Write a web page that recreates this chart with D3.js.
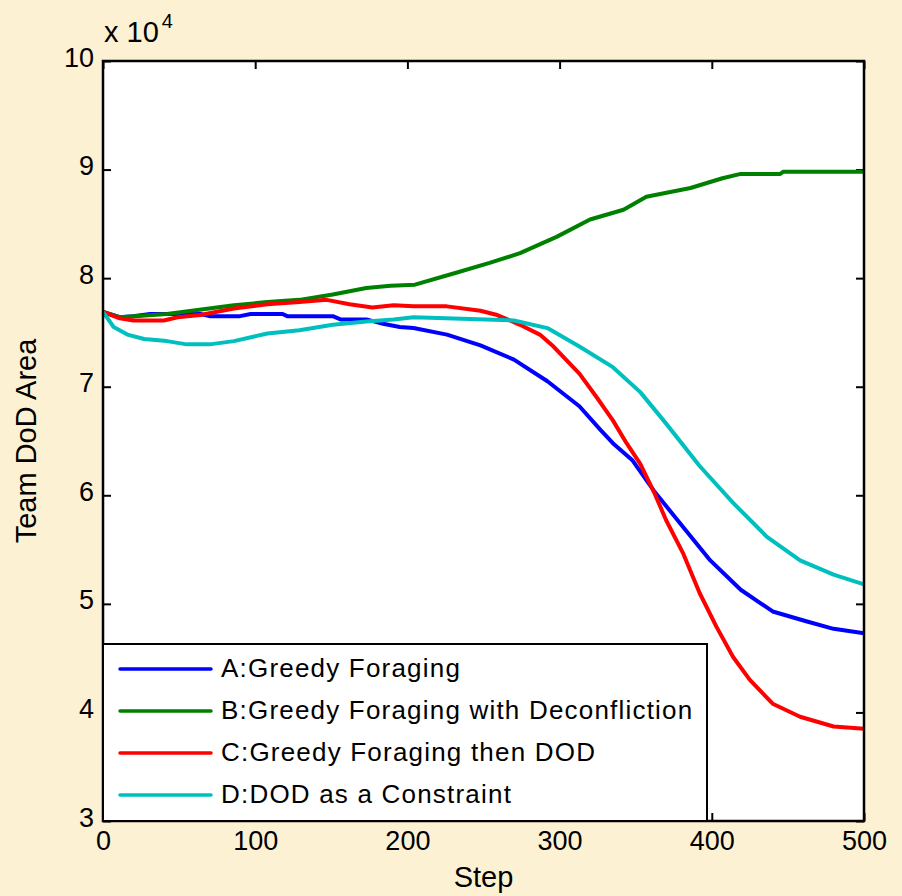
<html>
<head>
<meta charset="UTF-8">
<title>Team DoD Area</title>
<script src="https://d3js.org/d3.v7.min.js"></script>
<style>
  body { margin: 0; background: #fdf1d3; }
  text { font-family: "Liberation Sans", Arial, sans-serif; fill: #000; }
</style>
</head>
<body>
<div id="chart"></div>
<script>
// values in units of 10^4
var xTicks = [0, 100, 200, 300, 400, 500];
var yTicks = [3, 4, 5, 6, 7, 8, 9, 10];

var seriesNames = ["A:Greedy Foraging", "B:Greedy Foraging with Deconfliction",
                   "C:Greedy Foraging then DOD", "D:DOD as a Constraint"];
var seriesColors = ["#0000ff", "#008000", "#ff0000", "#00bfbf"];

var greedyA = [[0,7.69],[11,7.64],[20,7.65],[31,7.67],[64,7.67],[70,7.65],[90,7.65],[97,7.67],
  [118,7.67],[121,7.65],[151,7.65],[156,7.62],[173,7.62],[184,7.58],[195,7.55],[204,7.54],
  [226,7.48],[248,7.38],[270,7.25],[292,7.05],[313,6.82],[327,6.60],[335,6.48],[348,6.32],
  [362,6.04],[381,5.71],[399,5.40],[419,5.13],[440,4.93],[462,4.84],[480,4.77],[500,4.73]];

var deconflictB = [[0,7.69],[11,7.64],[42,7.67],[86,7.75],[108,7.78],[129,7.80],[151,7.85],
  [173,7.91],[189,7.93],[205,7.94],[232,8.05],[254,8.14],[274,8.23],[298,8.38],[320,8.54],
  [342,8.63],[357,8.75],[386,8.83],[407,8.92],[419,8.96],[445,8.96],[447,8.98],[500,8.98]];

var thenDodC = [[0,7.69],[11,7.63],[20,7.61],[40,7.61],[49,7.64],[64,7.66],[75,7.69],[86,7.72],
  [108,7.76],[129,7.78],[147,7.80],[162,7.76],[177,7.73],[191,7.75],[204,7.74],[226,7.74],
  [248,7.70],[259,7.66],[274,7.57],[287,7.48],[296,7.37],[313,7.12],[324,6.91],[335,6.69],
  [344,6.48],[353,6.29],[362,6.03],[370,5.77],[381,5.47],[392,5.10],[403,4.79],[414,4.51],
  [425,4.30],[440,4.08],[458,3.96],[480,3.87],[500,3.85]];

var constraintD = [[0,7.69],[7,7.55],[16,7.48],[27,7.44],[42,7.42],[55,7.39],[70,7.39],[86,7.42],
  [108,7.49],[129,7.52],[151,7.57],[173,7.60],[191,7.62],[204,7.64],[270,7.61],[292,7.54],
  [313,7.37],[335,7.18],[353,6.95],[370,6.66],[392,6.27],[414,5.93],[436,5.62],[458,5.40],
  [480,5.27],[500,5.18]];

var allSeries = [greedyA, deconflictB, thenDodC, constraintD];

(function() {
  var W = 902, H = 896;
  var pLeft = 103, pRight = 864, pTop = 61, pBottom = 821;

  var svg = d3.select("#chart").append("svg")
    .attr("width", W).attr("height", H);

  svg.append("rect").attr("width", W).attr("height", H).attr("fill", "#fdf1d3");
  svg.append("rect")
    .attr("x", pLeft).attr("y", pTop)
    .attr("width", pRight - pLeft).attr("height", pBottom - pTop)
    .attr("fill", "#fff");

  var x = d3.scaleLinear().domain([0, 500]).range([pLeft, pRight]);
  var y = d3.scaleLinear().domain([3, 10]).range([pBottom, pTop]);

  // axes, ticks point inward (matlab style)
  var gx = svg.append("g").attr("transform", "translate(0," + pBottom + ")")
    .call(d3.axisBottom(x).tickValues(xTicks).tickFormat(d3.format("d"))
      .tickSizeInner(-8).tickSizeOuter(0).tickPadding(10));
  var gy = svg.append("g").attr("transform", "translate(" + pLeft + ",0)")
    .call(d3.axisLeft(y).tickValues(yTicks).tickFormat(d3.format("d"))
      .tickSizeInner(-8).tickSizeOuter(0).tickPadding(9));
  svg.append("g").attr("transform", "translate(0," + pTop + ")")
    .call(d3.axisTop(x).tickValues(xTicks).tickSizeInner(-8).tickSizeOuter(0).tickFormat(""));
  svg.append("g").attr("transform", "translate(" + pRight + ",0)")
    .call(d3.axisRight(y).tickValues(yTicks).tickSizeInner(-8).tickSizeOuter(0).tickFormat(""));

  svg.selectAll(".domain").remove();
  svg.selectAll(".tick line").attr("stroke", "#000").attr("stroke-width", 2);
  svg.selectAll(".tick text").style("font-size", "27px")
    .style("font-family", "'Liberation Sans', Arial, sans-serif");
  gy.selectAll(".tick text").attr("dy", "5px");

  // lines
  var line = d3.line().x(function(d) { return x(d[0]); }).y(function(d) { return y(d[1]); });
  allSeries.forEach(function(s, i) {
    svg.append("path").datum(s)
      .attr("d", line)
      .attr("fill", "none")
      .attr("stroke", seriesColors[i])
      .attr("stroke-width", 4)
      .attr("stroke-linejoin", "round");
  });

  // box
  svg.append("rect")
    .attr("x", pLeft).attr("y", pTop)
    .attr("width", pRight - pLeft).attr("height", pBottom - pTop)
    .attr("fill", "none").attr("stroke", "#000").attr("stroke-width", 2.5);

  // legend
  var leg = svg.append("g");
  leg.append("rect")
    .attr("x", pLeft).attr("y", 644)
    .attr("width", 604).attr("height", pBottom - 644)
    .attr("fill", "#fff").attr("stroke", "#000").attr("stroke-width", 2);
  seriesNames.forEach(function(name, i) {
    var ry = 669 + i * 42;
    leg.append("line")
      .attr("x1", 120).attr("x2", 211).attr("y1", ry).attr("y2", ry)
      .attr("stroke", seriesColors[i]).attr("stroke-width", 3.5).attr("stroke-linecap", "round");
    leg.append("text")
      .attr("x", 221).attr("y", ry + 8)
      .style("font-size", "26px").style("letter-spacing", "1.2px")
      .text(name);
  });

  // labels
  svg.append("text")
    .attr("x", (pLeft + pRight) / 2).attr("y", 887)
    .attr("text-anchor", "middle").style("font-size", "29px")
    .text("Step");
  svg.append("text")
    .attr("transform", "translate(36," + ((pTop + pBottom) / 2) + ") rotate(-90)")
    .attr("text-anchor", "middle").style("font-size", "29px")
    .text("Team DoD Area");

  var mult = svg.append("text").attr("x", 104).attr("y", 42).style("font-size", "29px");
  mult.append("tspan").text("x 10");
  mult.append("tspan").attr("dx", 3).attr("dy", -14).style("font-size", "20px").text("4");
})();
</script>
</body>
</html>
